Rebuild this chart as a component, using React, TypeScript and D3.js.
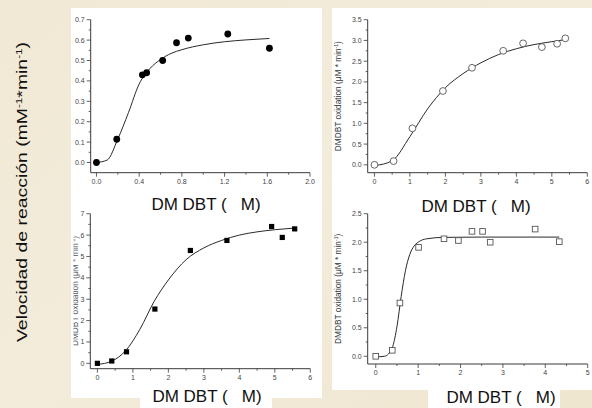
import React from "react";
import * as d3 from "d3";

// ---------- data ----------
// Panel A (top-left): filled circles
const aX = [0, 0.19, 0.43, 0.47, 0.62, 0.75, 0.86, 1.23, 1.62];
const aY = [0, 0.114, 0.43, 0.44, 0.5, 0.587, 0.61, 0.63, 0.56];
const aFitX = [0, 0.1, 0.2, 0.3, 0.4, 0.5, 0.6, 0.7, 0.8, 1.0, 1.2, 1.4, 1.62];
const aFitY = [0, 0.012, 0.115, 0.245, 0.385, 0.46, 0.505, 0.535, 0.553, 0.577, 0.592, 0.601, 0.608];
const aXTicks = ["0.0", "0.4", "0.8", "1.2", "1.6", "2.0"];
const aYTicks = ["0.0", "0.1", "0.2", "0.3", "0.4", "0.5", "0.6", "0.7"];

// Panel B (top-right): open circles
const bX = [0, 0.54, 1.07, 1.93, 2.75, 3.63, 4.19, 4.72, 5.15, 5.38];
const bY = [0, 0.09, 0.88, 1.78, 2.34, 2.75, 2.93, 2.84, 2.92, 3.05];
const bFitX = [0, 0.5, 1.0, 1.5, 2.0, 2.5, 3.0, 3.5, 4.0, 4.5, 5.0, 5.38];
const bFitY = [-0.02, 0.1, 0.68, 1.35, 1.86, 2.2, 2.46, 2.66, 2.8, 2.9, 2.97, 3.02];
const bXTicks = ["0", "1", "2", "3", "4", "5", "6"];
const bYTicks = ["0.0", "0.5", "1.0", "1.5", "2.0", "2.5", "3.0", "3.5"];

// Panel C (bottom-left): filled squares
const cX = [0, 0.405, 0.82, 1.62, 2.62, 3.65, 4.91, 5.21, 5.56];
const cY = [0, 0.11, 0.54, 2.54, 5.28, 5.75, 6.4, 5.89, 6.29];
const cFitX = [0, 0.4, 0.8, 1.2, 1.6, 2.0, 2.5, 3.0, 3.5, 4.0, 4.5, 5.0, 5.56];
const cFitY = [-0.05, 0.1, 0.6, 1.6, 2.9, 3.9, 4.85, 5.4, 5.75, 6.0, 6.15, 6.25, 6.33];
const cXTicks = ["0", "1", "2", "3", "4", "5", "6"];
const cYTicks = ["0", "1", "2", "3", "4", "5", "6", "7"];

// Panel D (bottom-right): open squares
const dX = [0, 0.39, 0.57, 1.01, 1.61, 1.95, 2.27, 2.52, 2.7, 3.76, 4.33];
const dY = [0, 0.105, 0.935, 1.91, 2.06, 2.03, 2.19, 2.19, 2.0, 2.23, 2.01];
const dFitX = [0, 0.2, 0.3, 0.4, 0.5, 0.6, 0.7, 0.8, 0.9, 1.0, 1.2, 1.6, 2.5, 4.33];
const dFitY = [-0.01, 0, 0.04, 0.17, 0.52, 1.05, 1.5, 1.78, 1.93, 2.0, 2.06, 2.085, 2.09, 2.09];
const dXTicks = ["0", "1", "2", "3", "4", "5"];
const dYTicks = ["0.0", "0.5", "1.0", "1.5", "2.0", "2.5"];

const xTitle = "DM DBT (\u00a0\u00a0\u00a0M)";
const panelYTitle = "DMDBT oxidation (";
const mainYTitle = "Velocidad de reacci\u00f3n (mM";

const FONT = "'Liberation Sans', Arial, Helvetica, sans-serif";

type PanelProps = {
  xs: number[];
  ys: number[];
  fitX: number[];
  fitY: number[];
  xTicks: string[];
  yTicks: string[];
  xDomain: [number, number];
  yDomain: [number, number];
  xRange: [number, number];
  yRange: [number, number];
  marker: "filledCircle" | "openCircle" | "filledSquare" | "openSquare";
  yLabel?: { x: number };
};

function YLabel({ x, y, fill }: { x: number; y: number; fill: string }) {
  return (
    <text
      transform={`translate(${x},${y}) rotate(-90)`}
      fontSize={8.3}
      textAnchor="middle"
      fill={fill}
      fontFamily={FONT}
    >
      {panelYTitle}
      <tspan>{"\u03bcM * min"}</tspan>
      <tspan baselineShift="super" fontSize={5}>
        -1
      </tspan>
      <tspan>{")"}</tspan>
    </text>
  );
}

function Panel(p: PanelProps) {
  const x = d3.scaleLinear().domain(p.xDomain).range(p.xRange);
  const y = d3.scaleLinear().domain(p.yDomain).range(p.yRange);
  const xVals = p.xTicks.map(Number);
  const yVals = p.yTicks.map(Number);
  const xStep = xVals[1] - xVals[0];
  const yStep = yVals[1] - yVals[0];
  const xMinor = xVals.slice(0, -1).map((v) => v + xStep / 2);
  const yMinor = yVals.slice(0, -1).map((v) => v + yStep / 2);
  const axisY = p.yRange[0];
  const axisX = p.xRange[0];
  const line = d3
    .line<number>()
    .x((_, i) => x(p.fitX[i]))
    .y((d) => y(d))
    .curve(d3.curveMonotoneX);
  const col = "#3a3a3a";
  const yMid = (p.yRange[0] + p.yRange[1]) / 2;
  return (
    <g>
      <line x1={axisX} x2={p.xRange[1]} y1={axisY} y2={axisY} stroke={col} strokeWidth={1} />
      <line x1={axisX} x2={axisX} y1={axisY} y2={p.yRange[1]} stroke={col} strokeWidth={1} />
      {xVals.map((v, i) => (
        <g key={"xt" + i}>
          <line x1={x(v)} x2={x(v)} y1={axisY} y2={axisY + 4} stroke={col} strokeWidth={0.8} />
          <text x={x(v)} y={axisY + 11} fontSize={7} textAnchor="middle" fill="#444" fontFamily={FONT}>
            {p.xTicks[i]}
          </text>
        </g>
      ))}
      {xMinor.map((v, i) => (
        <line key={"xm" + i} x1={x(v)} x2={x(v)} y1={axisY} y2={axisY + 2} stroke={col} strokeWidth={0.8} />
      ))}
      {yVals.map((v, i) => (
        <g key={"yt" + i}>
          <line x1={axisX - 4} x2={axisX} y1={y(v)} y2={y(v)} stroke={col} strokeWidth={0.8} />
          <text x={axisX - 6} y={y(v) + 2.5} fontSize={7} textAnchor="end" fill="#444" fontFamily={FONT}>
            {p.yTicks[i]}
          </text>
        </g>
      ))}
      {yMinor.map((v, i) => (
        <line key={"ym" + i} x1={axisX - 2} x2={axisX} y1={y(v)} y2={y(v)} stroke={col} strokeWidth={0.8} />
      ))}
      <path d={line(p.fitY) || ""} fill="none" stroke="#2a2a2a" strokeWidth={1} />
      {p.xs.map((v, i) => {
        const cx = x(v);
        const cy = y(p.ys[i]);
        if (p.marker === "filledCircle")
          return <circle key={i} cx={cx} cy={cy} r={3.4} fill="#000" />;
        if (p.marker === "openCircle")
          return <circle key={i} cx={cx} cy={cy} r={3.4} fill="#fff" stroke="#555" strokeWidth={0.9} />;
        if (p.marker === "filledSquare")
          return <rect key={i} x={cx - 2.6} y={cy - 2.6} width={5.2} height={5.2} fill="#000" />;
        return (
          <rect key={i} x={cx - 2.8} y={cy - 2.8} width={5.6} height={5.6} fill="#fff" stroke="#555" strokeWidth={0.9} />
        );
      })}
      {p.yLabel && <YLabel x={p.yLabel.x} y={yMid} fill="#333" />}
    </g>
  );
}

export default function App() {
  return (
    <svg width={592} height={408} style={{ position: "absolute", left: 0, top: 0, display: "block" }}>
      <defs>
        <linearGradient id="bg" x1="0" y1="0" x2="1" y2="1">
          <stop offset="0" stopColor="#f1e9d5" />
          <stop offset="0.5" stopColor="#f3ecdb" />
          <stop offset="1" stopColor="#efe6d0" />
        </linearGradient>
        <clipPath id="clipLeft" clipPathUnits="userSpaceOnUse">
          <rect x={73.5} y={200} width={40} height={200} />
        </clipPath>
      </defs>
      <rect x={0} y={0} width={592} height={408} fill="url(#bg)" />
      <rect x={71} y={8} width={251} height={390} fill="#fff" />
      <rect x={332} y={8} width={260} height={382} fill="#fff" />
      <rect x={140} y={380} width={132} height={28} fill="#fff" />
      <rect x={428} y={380} width={132} height={28} fill="#fff" />

      {/* partially hidden label of panel C */}
      <g clipPath="url(#clipLeft)">
        <YLabel x={77.5} y={291} fill="#555" />
      </g>

      <Panel
        xs={aX}
        ys={aY}
        fitX={aFitX}
        fitY={aFitY}
        xTicks={aXTicks}
        yTicks={aYTicks}
        xDomain={[-0.054, 2.0]}
        yDomain={[-0.05, 0.7]}
        xRange={[90.7, 310]}
        yRange={[172.7, 19.7]}
        marker="filledCircle"
      />
      <Panel
        xs={bX}
        ys={bY}
        fitX={bFitX}
        fitY={bFitY}
        xTicks={bXTicks}
        yTicks={bYTicks}
        xDomain={[-0.19, 6]}
        yDomain={[-0.19, 3.5]}
        xRange={[367.7, 587.3]}
        yRange={[172.7, 19.7]}
        marker="openCircle"
        yLabel={{ x: 341 }}
      />
      <Panel
        xs={cX}
        ys={cY}
        fitX={cFitX}
        fitY={cFitY}
        xTicks={cXTicks}
        yTicks={cYTicks}
        xDomain={[-0.2, 6]}
        yDomain={[-0.25, 7]}
        xRange={[90.3, 310.3]}
        yRange={[368.7, 213.7]}
        marker="filledSquare"
      />
      <Panel
        xs={dX}
        ys={dY}
        fitX={dFitX}
        fitY={dFitY}
        xTicks={dXTicks}
        yTicks={dYTicks}
        xDomain={[-0.19, 5]}
        yDomain={[-0.135, 2.5]}
        xRange={[367.7, 587.7]}
        yRange={[364, 213.7]}
        marker="openSquare"
        yLabel={{ x: 341 }}
      />

      {[
        [206, 210],
        [476, 212],
        [207, 402],
        [501, 403],
      ].map(([cx, by], i) => (
        <text key={i} x={cx} y={by} fontSize={17} textAnchor="middle" fill="#111" fontFamily={FONT}>
          {xTitle}
        </text>
      ))}

      <text
        transform="translate(27,192) rotate(-90)"
        fontSize={15}
        textAnchor="middle"
        fill="#111"
        fontFamily={FONT}
        textLength={300}
        lengthAdjust="spacingAndGlyphs"
      >
        {mainYTitle}
        <tspan baselineShift="super" fontSize={9}>
          -1
        </tspan>
        <tspan>*min</tspan>
        <tspan baselineShift="super" fontSize={9}>
          -1
        </tspan>
        <tspan>)</tspan>
      </text>
    </svg>
  );
}
